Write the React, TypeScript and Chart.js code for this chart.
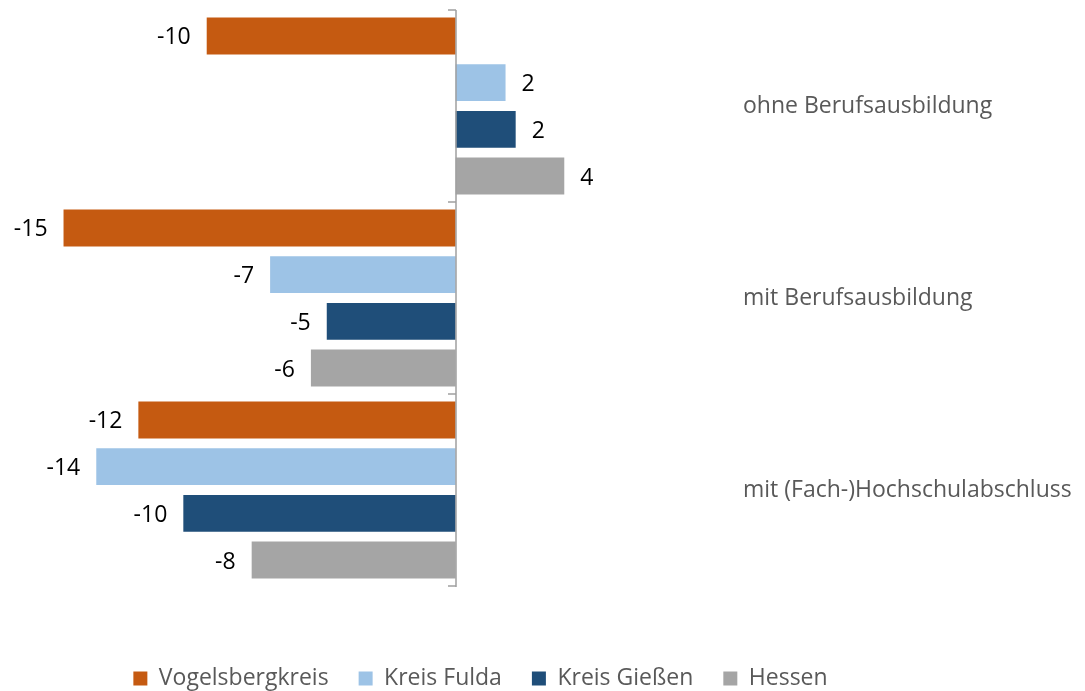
import React, { useEffect, useRef } from "react";
import { Chart, registerables } from "chart.js";

Chart.register(...registerables);

const categories = ["ohne Berufsausbildung", "mit Berufsausbildung", "mit (Fach-)Hochschulabschluss"];
const seriesNames = ["Vogelsbergkreis", "Kreis Fulda", "Kreis Gießen", "Hessen"];
const vogelsbergkreis = [-9.58, -15.09, -12.21];
const kreisFulda = [1.92, -7.14, -13.83];
const kreisGiessen = [2.31, -4.96, -10.48];
const hessen = [4.18, -5.57, -7.85];
const seriesColors = ["#C55A11", "#9DC3E6", "#1F4E79", "#A5A5A5"];

const FONT = "'Open Sans', 'Noto Sans', sans-serif";

const zeroAxisPlugin = {
  id: "zeroAxis",
  afterDatasetsDraw(chart: any) {
    const { ctx, scales } = chart;
    const x0 = Math.round(scales.x.getPixelForValue(0));
    const yScale = scales.y;
    ctx.save();
    ctx.strokeStyle = "#A0A0A0";
    ctx.lineWidth = 1.5;
    ctx.beginPath();
    const top = yScale.getPixelForValue(-0.5);
    const bottom = yScale.getPixelForValue(categories.length - 0.5);
    ctx.moveTo(x0, top);
    ctx.lineTo(x0, bottom + 1);
    for (let i = 0; i <= categories.length; i++) {
      const y = Math.round(yScale.getPixelForValue(i - 0.5));
      ctx.moveTo(x0 - 8, y);
      ctx.lineTo(x0, y);
    }
    ctx.stroke();
    ctx.restore();
  },
};

const valueLabelPlugin = {
  id: "valueLabels",
  afterDatasetsDraw(chart: any) {
    const { ctx } = chart;
    ctx.save();
    ctx.font = `23px ${FONT}`;
    ctx.fillStyle = "#000000";
    ctx.textBaseline = "middle";
    chart.data.datasets.forEach((ds: any, di: number) => {
      const meta = chart.getDatasetMeta(di);
      meta.data.forEach((bar: any, i: number) => {
        const v = ds.data[i] as number;
        const label = v.toFixed(0);
        if (v < 0) {
          ctx.textAlign = "right";
          ctx.fillText(label, bar.x - 16, bar.y + 2);
        } else {
          ctx.textAlign = "left";
          ctx.fillText(label, bar.x + 16, bar.y + 2);
        }
      });
    });
    ctx.restore();
  },
};

// keep the legend centred under the left part of the figure, as in the reference
const legendPlacePlugin = {
  id: "legendPlace",
  afterLayout(chart: any) {
    const lg = chart.legend;
    if (!lg) return;
    lg.left = 14;
    lg.right = 947;
    lg.width = 933;
  },
};

export default function App() {
  const canvasRef = useRef<HTMLCanvasElement | null>(null);

  useEffect(() => {
    if (!canvasRef.current) return;
    const seriesData = [vogelsbergkreis, kreisFulda, kreisGiessen, hessen];
    const chart = new Chart(canvasRef.current, {
      type: "bar",
      data: {
        labels: categories,
        datasets: seriesNames.map((name, i) => ({
          label: name,
          data: seriesData[i],
          backgroundColor: seriesColors[i],
          borderWidth: 0,
          categoryPercentage: 0.973,
          barPercentage: 0.79,
        })),
      },
      options: {
        indexAxis: "y",
        responsive: false,
        animation: false,
        layout: { padding: { top: 10, left: 10, right: 0, bottom: -9 } },
        scales: {
          x: {
            min: -17.15,
            max: 10.75,
            display: true,
            grid: { display: false, drawTicks: false },
            border: { display: false },
            ticks: { display: false },
            afterFit: (s: any) => {
              s.height = 51;
              s.paddingLeft = 0;
              s.paddingRight = 0;
            },
          },
          y: {
            position: "right",
            grid: { display: false, drawTicks: false },
            border: { display: false },
            ticks: {
              color: "#595959",
              font: { family: FONT, size: 23 },
              padding: 8,
            },
            afterFit: (s: any) => {
              s.width = 350;
              s.paddingTop = 0;
              s.paddingBottom = 0;
            },
          },
        },
        plugins: {
          legend: {
            position: "bottom",
            labels: {
              boxWidth: 14,
              boxHeight: 14,
              padding: 30,
              color: "#595959",
              font: { family: FONT, size: 23 },
            },
          },
          tooltip: { enabled: false },
        },
      } as any,
      plugins: [zeroAxisPlugin, valueLabelPlugin, legendPlacePlugin],
    });
    return () => chart.destroy();
  }, []);

  return (
    <div style={{ position: "absolute", left: 0, top: 0, width: 1085, height: 691, background: "#ffffff" }}>
      <canvas ref={canvasRef} width={1085} height={691} style={{ display: "block" }} />
    </div>
  );
}
